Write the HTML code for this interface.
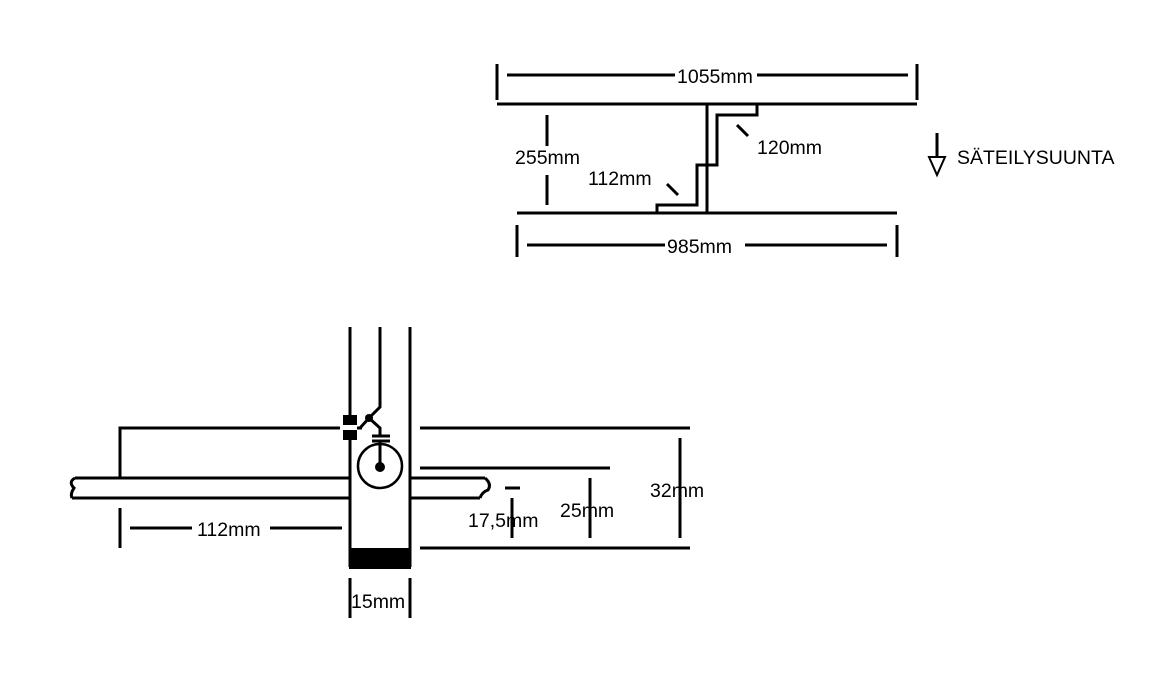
<!DOCTYPE html>
<html><head><style>body{margin:0;background:#fff}svg{display:block}text{font-family:"Liberation Sans",Arial,sans-serif;font-size:19.5px;fill:#000}</style></head><body>
<svg width="1165" height="684" xmlns="http://www.w3.org/2000/svg">
<g stroke="#000" stroke-width="3" fill="none">
<line x1="497" y1="64" x2="497" y2="100"/><line x1="917" y1="64" x2="917" y2="100"/>
<line x1="507" y1="75" x2="675" y2="75"/><line x1="757" y1="75" x2="908" y2="75"/>
<line x1="497" y1="104" x2="917" y2="104"/>
<line x1="707" y1="104" x2="707" y2="213"/>
<polyline points="757,104 757,115 717,115 717,165 697,165 697,205 657,205 657,213"/>
<line x1="517" y1="213" x2="897" y2="213"/>
<line x1="517" y1="225" x2="517" y2="257"/><line x1="897" y1="225" x2="897" y2="257"/>
<line x1="527" y1="245" x2="665" y2="245"/><line x1="745" y1="245" x2="887" y2="245"/>
<line x1="547" y1="115" x2="547" y2="146"/><line x1="547" y1="175" x2="547" y2="205"/>
<line x1="667" y1="184" x2="678" y2="195"/>
<line x1="737" y1="125" x2="748" y2="136"/>
<line x1="937" y1="133" x2="937" y2="157"/>
<polygon points="929,157 945,157 937,175" stroke-width="2"/>
<line x1="350" y1="327" x2="350" y2="415"/><line x1="350" y1="440" x2="350" y2="567"/>
<line x1="410" y1="327" x2="410" y2="567"/>
<polyline points="380,327 380,407 369,418 360,428"/>
<polyline points="120,478 120,428 340,428"/>
<line x1="357" y1="428" x2="362" y2="428"/>
<polyline points="369,418 380,428 380,436"/>
<line x1="372" y1="436" x2="390" y2="436"/><line x1="372" y1="441" x2="390" y2="441"/>
<line x1="380" y1="441" x2="380" y2="467"/>
<circle cx="380" cy="466" r="22" stroke-width="2.5"/>
<line x1="75" y1="478" x2="350" y2="478"/><line x1="72" y1="498" x2="350" y2="498"/>
<path d="M75,478 Q68,482 74,488 Q70,494 72,498"/>
<line x1="410" y1="478" x2="485" y2="478"/><line x1="410" y1="498" x2="480" y2="498"/>
<path d="M485,478 Q492,484 488,490 Q482,492 480,498"/>
<line x1="420" y1="428" x2="690" y2="428"/>
<line x1="420" y1="468" x2="610" y2="468"/>
<line x1="420" y1="548" x2="690" y2="548"/>
<line x1="350" y1="578" x2="350" y2="618"/><line x1="410" y1="578" x2="410" y2="618"/>
<line x1="120" y1="508" x2="120" y2="548"/>
<line x1="130" y1="528" x2="192" y2="528"/><line x1="270" y1="528" x2="342" y2="528"/>
<line x1="505" y1="488" x2="520" y2="488"/>
<line x1="512" y1="498" x2="512" y2="538"/>
<line x1="590" y1="478" x2="590" y2="538"/>
<line x1="680" y1="438" x2="680" y2="538"/>
</g>
<circle cx="369" cy="418" r="4"/>
<circle cx="380" cy="467" r="5"/>
<rect x="343" y="415" width="14" height="10"/><rect x="343" y="430" width="14" height="10"/>
<rect x="349" y="548" width="62" height="21"/>
<text x="677" y="83">1055mm</text>
<text x="667" y="253">985mm</text>
<text x="515" y="164">255mm</text>
<text x="588" y="185">112mm</text>
<text x="757" y="154">120mm</text>
<text x="957" y="164">SÄTEILYSUUNTA</text>
<text x="197" y="536">112mm</text>
<text x="468" y="527">17,5mm</text>
<text x="560" y="517">25mm</text>
<text x="650" y="497">32mm</text>
<text x="351" y="608">15mm</text>
</svg>
</body></html>
